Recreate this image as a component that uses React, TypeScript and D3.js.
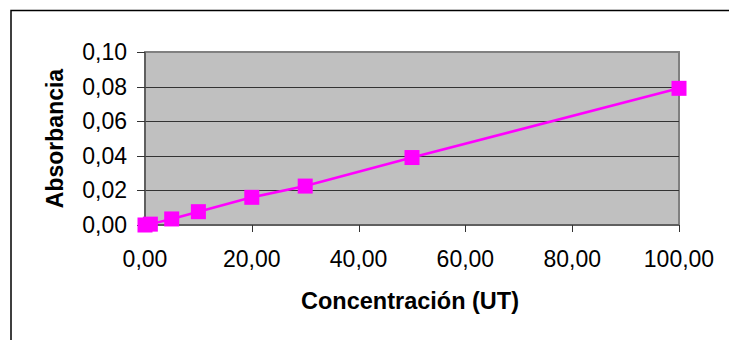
import React from "react";
import * as d3 from "d3";

const concentrations = [0, 1, 5, 10, 20, 30, 50, 100];
const absorbances = [0, 0.0005, 0.0035, 0.0077, 0.016, 0.0225, 0.039, 0.079];
const xTicks = [0, 20, 40, 60, 80, 100];
const yTicks = [0, 0.02, 0.04, 0.06, 0.08, 0.1];
const xTitle = "Concentración (UT)";
const yTitle = "Absorbancia";

const W = 729;
const H = 340;
const plot = { left: 145, top: 52, right: 679, bottom: 225 };

const fmt = (v: number, d: number) => v.toFixed(d).replace(".", ",");

export default function App() {
  const x = d3.scaleLinear().domain([0, 100]).range([plot.left, plot.right]);
  const y = d3.scaleLinear().domain([0, 0.1]).range([plot.bottom, plot.top]);
  const pts = concentrations.map((c, i) => [c, absorbances[i]] as [number, number]);
  const line = d3
    .line<[number, number]>()
    .x((d) => x(d[0]))
    .y((d) => y(d[1]));
  const font = "'Liberation Sans', Arial, sans-serif";
  const ms = 15;
  return (
    <svg
      width={W}
      height={H}
      style={{ position: "absolute", left: 0, top: 0, background: "#fff" }}
      fontFamily={font}
    >
      <rect x={0} y={0} width={W} height={H} fill="#fff" />
      <rect x={11} y={10.5} width={W + 10} height={H + 10} fill="none" stroke="#000" strokeWidth={1.5} />
      <rect
        x={plot.left}
        y={plot.top}
        width={plot.right - plot.left}
        height={plot.bottom - plot.top}
        fill="#C0C0C0"
        stroke="#808080"
        strokeWidth={2}
      />
      {yTicks.slice(1, -1).map((t) => (
        <line key={"g" + t} x1={plot.left} x2={plot.right} y1={Math.round(y(t)) + 0.5} y2={Math.round(y(t)) + 0.5} stroke="#333" strokeWidth={1} />
      ))}
      <line x1={plot.left} x2={plot.left} y1={plot.top} y2={plot.bottom} stroke="#555" strokeWidth={1.5} />
      <line x1={plot.left} x2={plot.right} y1={plot.bottom} y2={plot.bottom} stroke="#555" strokeWidth={1.5} />
      {yTicks.map((t) => (
        <g key={"y" + t}>
          <line x1={plot.left - 8} x2={plot.left} y1={Math.round(y(t)) + 0.5} y2={Math.round(y(t)) + 0.5} stroke="#333" />
          <text x={127} y={y(t)} fontSize={23} textAnchor="end" dominantBaseline="central" fill="#000">
            {fmt(t, 2)}
          </text>
        </g>
      ))}
      {xTicks.map((t) => (
        <g key={"x" + t}>
          <line x1={Math.round(x(t)) + 0.5} x2={Math.round(x(t)) + 0.5} y1={plot.bottom} y2={plot.bottom + 7} stroke="#333" />
          <text x={x(t)} y={266.5} fontSize={23} textAnchor="middle" fill="#000">
            {fmt(t, 2)}
          </text>
        </g>
      ))}
      <path d={line(pts) || ""} fill="none" stroke="#FF00FF" strokeWidth={2.5} />
      {pts.map((p, i) => (
        <rect key={"m" + i} x={x(p[0]) - ms / 2} y={y(p[1]) - ms / 2} width={ms} height={ms} fill="#FF00FF" />
      ))}
      <text x={410} y={309} fontSize={23.5} fontWeight="bold" textAnchor="middle" fill="#000">
        {xTitle}
      </text>
      <text
        transform={`translate(63, ${(plot.top + plot.bottom) / 2}) rotate(-90)`}
        fontSize={23}
        fontWeight="bold"
        textAnchor="middle"
        fill="#000"
      >
        {yTitle}
      </text>
    </svg>
  );
}
